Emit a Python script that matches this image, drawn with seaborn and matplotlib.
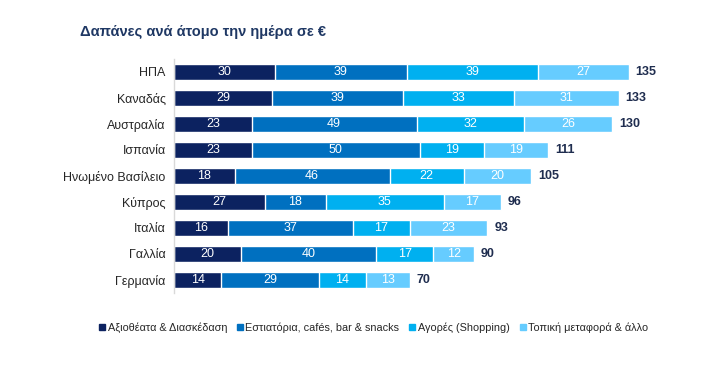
import pandas as pd
import numpy as np
import matplotlib.pyplot as plt
import seaborn as sns
from matplotlib.lines import Line2D

# Δεδομένα (€ ανά άτομο την ημέρα)
xwres = ['ΗΠΑ', 'Καναδάς', 'Αυστραλία', 'Ισπανία', 'Ηνωμένο Βασίλειο',
         'Κύπρος', 'Ιταλία', 'Γαλλία', 'Γερμανία']
axiotheata = [30, 29, 23, 23, 18, 27, 16, 20, 14]
estiatoria = [39, 39, 49, 50, 46, 18, 37, 40, 29]
agores = [39, 33, 32, 19, 22, 35, 17, 17, 14]
metafora = [27, 31, 26, 19, 20, 17, 23, 12, 13]
synolo = [135, 133, 130, 111, 105, 96, 93, 90, 70]

kathgories = ['Αξιοθέατα & Διασκέδαση', 'Εστιατόρια, cafés, bar & snacks',
              'Αγορές (Shopping)', 'Τοπική μεταφορά & άλλο']
xrwmata = ['#0c2260', '#0070c0', '#00b0f0', '#66ccff']

sns.set_style('white')
plt.rcParams['font.family'] = ['Liberation Sans', 'DejaVu Sans']

df = pd.DataFrame({'Χώρα': xwres, kathgories[0]: axiotheata,
                   kathgories[1]: estiatoria, kathgories[2]: agores,
                   kathgories[3]: metafora})
timi = df[kathgories].to_numpy()
athroisma = np.cumsum(timi, axis=1)

fig = plt.figure(figsize=(7.16, 3.73), dpi=100)
ax = fig.add_axes([174 / 716, 1 - 293 / 373, 516 / 716, 234 / 373])

# stacked: σχεδιάζουμε τα αθροίσματα από το μεγαλύτερο προς το μικρότερο
for i in range(3, -1, -1):
    df_plot = pd.DataFrame({'Χώρα': xwres, 'val': athroisma[:, i]})
    sns.barplot(data=df_plot, x='val', y='Χώρα', color=xrwmata[i],
                saturation=1, width=0.64, edgecolor='white', linewidth=1,
                orient='h', ax=ax)

for r in range(len(xwres)):
    arxh = 0
    for i in range(4):
        v = timi[r, i]
        ax.text(arxh + v / 2, r, str(v), ha='center', va='center',
                color='white', fontsize=9)
        arxh += v
    ax.text(athroisma[r, 3] + 2, r, str(synolo[r]), ha='left', va='center',
            color='#1f2d4f', fontsize=9, fontweight='bold')

ax.set_xlim(0, 516 / 3.37)
ax.set_ylim(8.5, -0.5)
ax.set_xlabel('')
ax.set_ylabel('')
ax.set_xticks([])
ax.tick_params(axis='y', length=0, labelsize=9, labelcolor='#262626', pad=6)
for s in ['top', 'right', 'bottom']:
    ax.spines[s].set_visible(False)
ax.spines['left'].set_color('#d9d9d9')
ax.spines['left'].set_linewidth(1)

fig.text(80 / 716, 1 - 32 / 373, 'Δαπάνες ανά άτομο την ημέρα σε €',
         fontsize=10.5, fontweight='bold', color='#1f3864', va='center')

handles = [Line2D([], [], marker='s', linestyle='', markersize=5,
                  color=c) for c in xrwmata]
fig.legend(handles, kathgories, loc='center', ncol=4, frameon=False,
           bbox_to_anchor=(373 / 716, 1 - 328 / 373), fontsize=7.8,
           handletextpad=0.1, columnspacing=0.8, handlelength=0.8,
           labelcolor='#262626')

plt.savefig('out.png', dpi=100)
